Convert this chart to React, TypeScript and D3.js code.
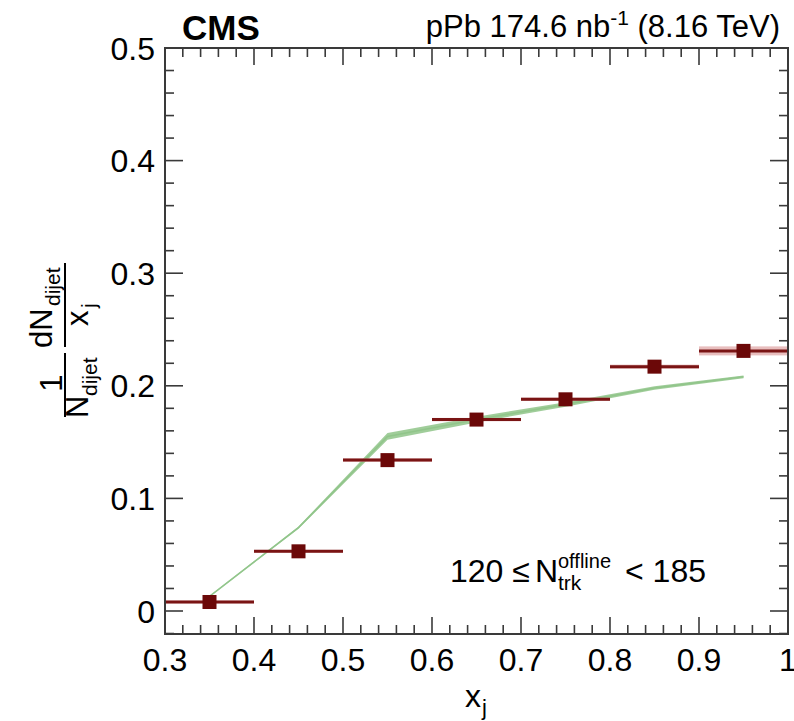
import React from 'react';
import * as d3 from 'd3';

const binLow = [0.3, 0.4, 0.5, 0.6, 0.7, 0.8, 0.9];
const binHigh = [0.4, 0.5, 0.6, 0.7, 0.8, 0.9, 1.0];
const xCenters = [0.35, 0.45, 0.55, 0.65, 0.75, 0.85, 0.95];
const dataValues = [0.008, 0.053, 0.134, 0.170, 0.188, 0.217, 0.231];
const sysErr = [0.0012, 0.0012, 0.0015, 0.0015, 0.0015, 0.0018, 0.004];
const modelLow = [0.0125, 0.073, 0.152, 0.1675, 0.1815, 0.1965, 0.2068];
const modelHigh = [0.0135, 0.075, 0.158, 0.1725, 0.1855, 0.1995, 0.2092];
const xTicks = [0.3, 0.4, 0.5, 0.6, 0.7, 0.8, 0.9, 1.0];
const xTickLabels = ['0.3', '0.4', '0.5', '0.6', '0.7', '0.8', '0.9', '1'];
const yTicks = [0, 0.1, 0.2, 0.3, 0.4, 0.5];
const yTickLabels = ['0', '0.1', '0.2', '0.3', '0.4', '0.5'];

const W = 794;
const H = 721;
const L = 165, R = 788, T = 48, B = 634;
const FONT = '"Liberation Sans", Arial, Helvetica, sans-serif';

export default function App() {
  const x = d3.scaleLinear().domain([0.3, 1.0]).range([L, R]);
  const y = d3.scaleLinear().domain([0, 0.5]).range([611, 48]);

  const xMinor = d3.range(0.3, 1.0001, 0.02);
  const yMinor = d3.range(-0.02, 0.5001, 0.02).filter((v) => y(v) <= B + 0.5);

  const area = d3
    .area<number>()
    .x((_, i) => x(xCenters[i]))
    .y0((_, i) => y(modelLow[i]))
    .y1((_, i) => y(modelHigh[i]));
  const line = d3
    .line<number>()
    .x((_, i) => x(xCenters[i]))
    .y((_, i) => y((modelLow[i] + modelHigh[i]) / 2));

  const axisColor = '#3a3a3a';
  const markerColor = '#6b0808';
  const barColor = '#7a1414';
  const ms = 14;

  return (
    <svg
      width={W}
      height={H}
      style={{ position: 'absolute', left: 0, top: 0, background: '#fff' }}
      fontFamily={FONT}
    >
      <rect x={0} y={0} width={W} height={H} fill="#fff" />

      {/* model band */}
      <path d={area(xCenters) || ''} fill="#8fc488" opacity={0.85} />
      <path d={line(xCenters) || ''} fill="none" stroke="#8fc488" strokeWidth={1.6} opacity={0.9} />

      {/* data sys bands + horizontal bars + markers */}
      {xCenters.map((c, i) => (
        <g key={i}>
          <rect
            x={x(binLow[i])}
            y={y(dataValues[i] + sysErr[i])}
            width={x(binHigh[i]) - x(binLow[i])}
            height={y(dataValues[i] - sysErr[i]) - y(dataValues[i] + sysErr[i])}
            fill="#e0a8a8"
            opacity={0.75}
          />
          <line
            x1={x(binLow[i])}
            x2={x(binHigh[i])}
            y1={y(dataValues[i])}
            y2={y(dataValues[i])}
            stroke={barColor}
            strokeWidth={3}
          />
          <rect
            x={x(c) - ms / 2}
            y={y(dataValues[i]) - ms / 2}
            width={ms}
            height={ms}
            fill={markerColor}
          />
        </g>
      ))}

      {/* frame */}
      <rect x={L} y={T} width={R - L} height={B - T} fill="none" stroke={axisColor} strokeWidth={2} />

      {/* x ticks */}
      {xMinor.map((v, i) => {
        const isMajor = Math.abs(v * 10 - Math.round(v * 10)) < 1e-6;
        const len = isMajor ? 17 : 9;
        return (
          <g key={'xm' + i} stroke={axisColor} strokeWidth={1.6}>
            <line x1={x(v)} x2={x(v)} y1={B} y2={B - len} />
            <line x1={x(v)} x2={x(v)} y1={T} y2={T + len} />
          </g>
        );
      })}
      {/* y ticks */}
      {yMinor.map((v, i) => {
        const isMajor = Math.abs(v * 10 - Math.round(v * 10)) < 1e-6;
        const len = isMajor ? 18 : 9;
        return (
          <g key={'ym' + i} stroke={axisColor} strokeWidth={1.6}>
            <line x1={L} x2={L + len} y1={y(v)} y2={y(v)} />
            <line x1={R} x2={R - len} y1={y(v)} y2={y(v)} />
          </g>
        );
      })}

      {/* x tick labels */}
      {xTicks.map((v, i) => (
        <text key={'xl' + i} x={x(v)} y={671} textAnchor="middle" fontSize={32} fill="#000">
          {xTickLabels[i]}
        </text>
      ))}
      {/* y tick labels */}
      {yTicks.map((v, i) => (
        <text key={'yl' + i} x={155} y={y(v) + 11.5} textAnchor="end" fontSize={32} fill="#000">
          {yTickLabels[i]}
        </text>
      ))}

      {/* x axis title */}
      <text x={465} y={707} fontSize={32} fill="#000">x</text>
      <text x={482} y={715} fontSize={22} fill="#000">j</text>

      {/* y axis title */}
      <g transform="translate(65,0) rotate(-90)" fill="#000">
        <text x={-348} y={-13} fontSize={31}>dN</text>
        <text x={-306} y={-5} fontSize={21}>dijet</text>
        <line x1={-347} x2={-263} y1={0} y2={0} stroke="#000" strokeWidth={2} />
        <text x={-326} y={23} fontSize={31}>x</text>
        <text x={-308} y={31} fontSize={21}>j</text>
        <text x={-383} y={-3} fontSize={31} textAnchor="middle">1</text>
        <line x1={-417} x2={-353} y1={0} y2={0} stroke="#000" strokeWidth={2} />
        <text x={-418} y={23} fontSize={31}>N</text>
        <text x={-396} y={32} fontSize={21}>dijet</text>
      </g>

      {/* CMS label */}
      <text x={182} y={40} fontSize={35} fontWeight="bold" fill="#000">CMS</text>

      {/* luminosity label */}
      <text x={780} y={37} textAnchor="end" fontSize={31} fill="#000">
        pPb 174.6 nb
        <tspan fontSize={21} dy={-12}>-1</tspan>
        <tspan dy={12}> (8.16 TeV)</tspan>
      </text>

      {/* multiplicity annotation */}
      <text x={450} y={582} fontSize={32} fill="#000">120 ≤</text>
      <text x={535} y={582} fontSize={32} fill="#000">N</text>
      <text x={558} y={568} fontSize={20} fill="#000">offline</text>
      <text x={558} y={590} fontSize={21} fill="#000">trk</text>
      <text x={625} y={582} fontSize={32} fill="#000">&lt; 185</text>
    </svg>
  );
}
